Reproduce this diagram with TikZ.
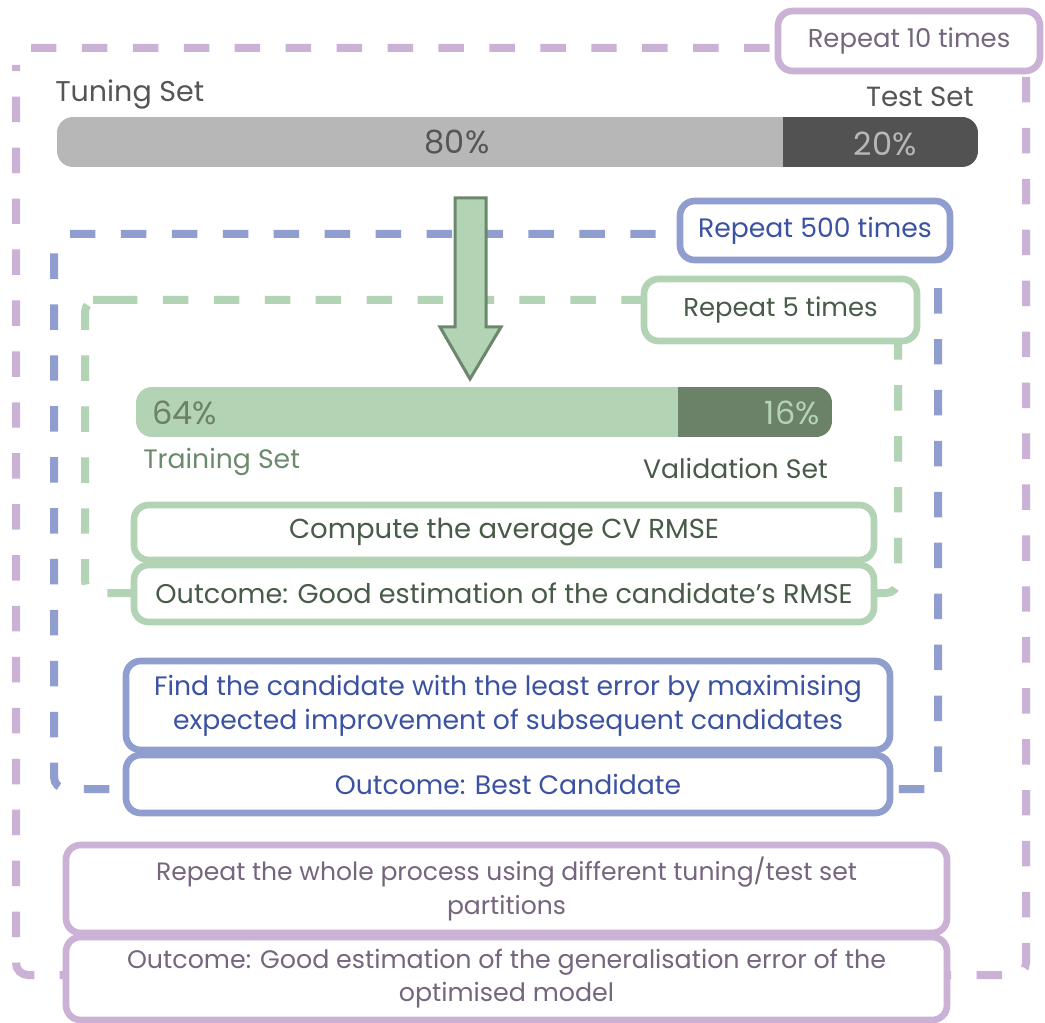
\documentclass[tikz,border=0pt]{standalone}
\usepackage{fontspec}
\setmainfont{Poppins}
\definecolor{pline}{HTML}{CBB1D5}
\definecolor{ptext}{HTML}{75657D}
\definecolor{bline}{HTML}{8F9ECE}
\definecolor{btext}{HTML}{3B52A3}
\definecolor{gline}{HTML}{B2D3B4}
\definecolor{gdark}{HTML}{6B8268}
\definecolor{gtext}{HTML}{485A48}
\definecolor{gmid}{HTML}{6B8A6B}
\definecolor{arrowedge}{HTML}{6D876D}
\definecolor{glight}{HTML}{B6B7B6}
\definecolor{gdarkbar}{HTML}{525252}
\definecolor{graytext}{HTML}{555555}
\begin{document}
\begin{tikzpicture}[x=0.75pt,y=-0.75pt,
  dashline/.style={line width=6pt, dash pattern=on 19.1pt off 19.1pt, rounded corners=9pt},
  boxbase/.style={draw, fill=white, line width=5pt, rounded corners=11pt, inner sep=0pt, align=center, font=\fontsize{20}{25.5}\selectfont},
  pbox/.style={boxbase, draw=pline, text=ptext},
  bbox/.style={boxbase, draw=bline, text=btext},
  gbox/.style={boxbase, draw=gline, text=gtext, font=\fontsize{20.6}{25.5}\selectfont},
  lbl/.style={inner sep=0pt, font=\fontsize{20}{24}\selectfont},
  pct/.style={inner sep=0pt, font=\fontsize{24}{28}\selectfont}
]
\useasboundingbox (0,0) rectangle (1045,1023);

% dashed loops
\draw[dashline, pline] (31,48) -- (1026,48) -- (1026,975) -- (16,975) -- (16,65);
\draw[dashline, bline] (70,234) -- (938,234) -- (938,789) -- (54,789) -- (54,250);
\draw[dashline, gline] (100,300) -- (898,300) -- (898,593) -- (85,593) -- (85,300) -- cycle;

% arrow
\draw[fill=gline, draw=arrowedge, line width=2.25pt, line join=miter]
  (455,198) -- (486,198) -- (486,327) -- (501,327) -- (470,379) -- (440,327) -- (455,327) -- cycle;

% gray bar
\begin{scope}
  \clip[rounded corners=12pt] (57,117) rectangle (978,167);
  \fill[glight] (57,117) rectangle (783,167);
  \fill[gdarkbar] (783,117) rectangle (978,167);
\end{scope}
% green bar
\begin{scope}
  \clip[rounded corners=12pt] (136,387) rectangle (832,437);
  \fill[gline] (136,387) rectangle (678,437);
  \fill[gdark] (678,387) rectangle (832,437);
\end{scope}

% labels
\node[lbl, anchor=base west, text=graytext, font=\fontsize{21.4}{24}\selectfont] (tuning) at (55,102) {Tuning Set};
\node[lbl, anchor=base east, text=graytext, font=\fontsize{20.8}{24}\selectfont] (test) at (974,107) {Test Set};
\node[pct, anchor=base, text=graytext] (p80) at (457,154) {80\%};
\node[pct, anchor=base, text=glight] (p20) at (885,156) {20\%};
\node[pct, anchor=base west, text=gdark] (p64) at (152,424) {64\%};
\node[pct, anchor=base east, text=gline] (p16) at (820,424) {16\%};
\node[lbl, anchor=base west, text=gmid] (train) at (143,468) {Training Set};
\node[lbl, anchor=base east, text=gtext] (valid) at (828,478) {Validation Set};

% boxes
\node[pbox, minimum width=196.5pt, minimum height=45pt, font=\fontsize{19.4}{24}\selectfont] (rep10) at (909,41) {Repeat 10 times};
\node[bbox, minimum width=202.5pt, minimum height=44.25pt] (rep500) at (815,230.5) {Repeat 500 times};
\node[gbox, minimum width=204.75pt, minimum height=46.5pt, font=\fontsize{19.4}{24}\selectfont] (rep5) at (780.5,310) {Repeat 5 times};
\node[gbox, minimum width=555pt, minimum height=41.25pt] (compute) at (504,532.5) {Compute the average CV RMSE};
\node[gbox, minimum width=555pt, minimum height=42.75pt, font=\fontsize{20.3}{25.5}\selectfont] (outg) at (504,593.5) {Outcome: Good estimation of the candidate’s RMSE};
\node[bbox, minimum width=573pt, minimum height=66.75pt] (find) at (508,705.5) {Find the candidate with the least error by maximising\\expected improvement of subsequent candidates};
\node[bbox, minimum width=573pt, minimum height=43.5pt] (outb) at (508,784) {Outcome: Best Candidate};
\node[pbox, minimum width=660.75pt, minimum height=66pt, font=\fontsize{18.8}{25}\selectfont] (repw) at (506.5,889) {Repeat the whole process using different tuning/test set\\partitions};
\node[pbox, minimum width=660.75pt, minimum height=62.25pt, font=\fontsize{19}{25}\selectfont] (outp) at (506.5,978.5) {Outcome: Good estimation of the generalisation error of the\\optimised model};
\end{tikzpicture}
\end{document}
